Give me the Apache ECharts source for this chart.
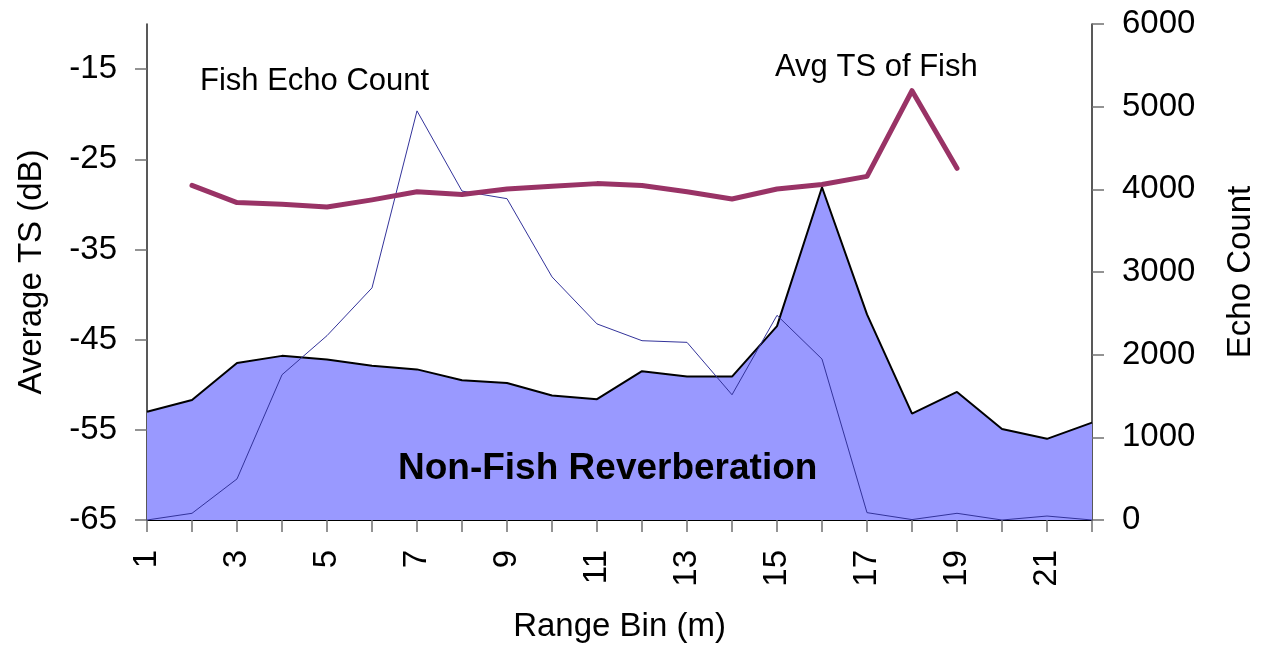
<!DOCTYPE html>
<html>
<head>
<meta charset="utf-8">
<script src="https://cdn.jsdelivr.net/npm/echarts@6/dist/echarts.min.js"></script>
<style>
html,body{margin:0;padding:0;background:#fff;}
#chart{width:1265px;height:647px;}
</style>
</head>
<body>
<div id="chart"></div>
<script>
// Range bins (m)
var rangeBins = ['1','2','3','4','5','6','7','8','9','10','11','12','13','14','15','16','17','18','19','20','21','22'];
// Non-Fish Reverberation level (dB, left axis)
var reverb = [-53.0,-51.7,-47.6,-46.8,-47.2,-47.9,-48.3,-49.5,-49.8,-51.2,-51.6,-48.5,-49.1,-49.1,-43.5,-28.1,-42.2,-53.2,-50.8,-54.9,-56.0,-54.2];
// Fish Echo Count (right axis)
var echoCount = [0,81,497,1757,2230,2808,4949,3979,3887,2941,2372,2169,2149,1515,2476,1947,89,5,81,0,48,0];
// Avg TS of Fish (dB, left axis)
var avgTS = [null,-27.9,-29.8,-30.0,-30.3,-29.5,-28.6,-28.9,-28.3,-28.0,-27.7,-27.9,-28.6,-29.4,-28.3,-27.8,-26.9,-17.4,-26.0,null,null,null];
// Axis ranges
var tsMin = -65, tsMax = -10, tsStep = 10;
var cntMin = 0, cntMax = 6000, cntStep = 1000;

var FONT = '"Liberation Sans", Arial, sans-serif';
var chart = echarts.init(document.getElementById('chart'), null, {renderer:'canvas'});
chart.setOption({
  animation: false,
  backgroundColor: '#ffffff',
  grid: {left:147, right:173, top:24, bottom:127, containLabel:false, outerBoundsMode:'none'},
  xAxis: {
    type: 'category',
    data: rangeBins,
    boundaryGap: false,
    name: 'Range Bin (m)',
    nameLocation: 'middle',
    nameGap: 90,
    nameMoveOverlap: false,
    nameTextStyle: {fontFamily: FONT, fontSize: 33, color: '#000'},
    axisLine: {lineStyle: {color: '#000', width: 2}},
    axisTick: {show: true, interval: 0, length: 12, lineStyle: {color: '#707070', width: 1.5}},
    axisLabel: {interval: 1, rotate: 90, margin: 30, fontFamily: FONT, fontSize: 33, color: '#000'},
    splitLine: {show: false}
  },
  yAxis: [{
    type: 'value',
    position: 'left',
    min: tsMin, max: tsMax, interval: tsStep,
    name: 'Average TS (dB)',
    nameLocation: 'middle',
    nameRotate: 90,
    nameGap: 99,
    nameMoveOverlap: false,
    nameTextStyle: {fontFamily: FONT, fontSize: 33, color: '#000'},
    axisLine: {show: true, lineStyle: {color: '#222', width: 1.5}},
    axisTick: {show: true, length: 12, lineStyle: {color: '#707070', width: 1.5}},
    axisLabel: {showMaxLabel: false, margin: 30, fontFamily: FONT, fontSize: 33, color: '#000',
      formatter: function (v) { return String(v); }},
    splitLine: {show: false}
  },{
    type: 'value',
    position: 'right',
    min: cntMin, max: cntMax, interval: cntStep,
    name: 'Echo Count',
    nameLocation: 'middle',
    nameRotate: 90,
    nameGap: 132,
    nameMoveOverlap: false,
    nameTextStyle: {fontFamily: FONT, fontSize: 33, color: '#000'},
    axisLine: {show: true, lineStyle: {color: '#222', width: 1.5}},
    axisTick: {show: true, length: 12, lineStyle: {color: '#707070', width: 1.5}},
    axisLabel: {margin: 30, fontFamily: FONT, fontSize: 33, color: '#000',
      formatter: function (v) { return String(v); }},
    splitLine: {show: false}
  }],
  series: [{
    name: 'Non-Fish Reverberation',
    type: 'line',
    yAxisIndex: 0,
    data: reverb,
    symbol: 'none',
    z: 1,
    lineStyle: {color: '#000', width: 2},
    areaStyle: {color: '#9999FF', opacity: 1, origin: 'start'}
  },{
    name: 'Fish Echo Count',
    type: 'line',
    yAxisIndex: 1,
    data: echoCount,
    symbol: 'none',
    z: 3,
    lineStyle: {color: '#33339A', width: 1}
  },{
    name: 'Avg TS of Fish',
    type: 'line',
    yAxisIndex: 0,
    data: avgTS,
    symbol: 'none',
    z: 4,
    connectNulls: false,
    lineStyle: {color: '#993366', width: 5, cap: 'round', join: 'round'}
  }],
  graphic: [{
    type: 'text', left: 200, top: 66, z: 100,
    style: {text: 'Fish Echo Count', fontFamily: FONT, fontSize: 31, fill: '#000'}
  },{
    type: 'text', left: 775, top: 52, z: 100,
    style: {text: 'Avg TS of Fish', fontFamily: FONT, fontSize: 31, fill: '#000'}
  },{
    type: 'text', left: 398, top: 450, z: 100,
    style: {text: 'Non-Fish Reverberation', fontFamily: FONT, fontSize: 37, fontWeight: 'bold', fill: '#000'}
  }]
});
</script>
</body>
</html>
